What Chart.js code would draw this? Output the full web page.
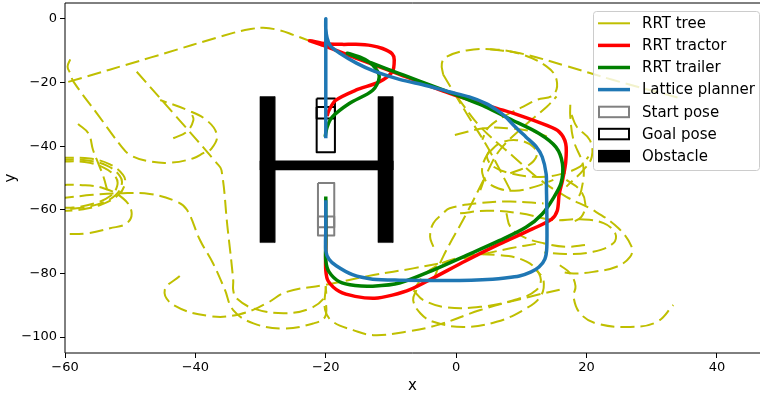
<!DOCTYPE html>
<html lang="en">
<head>
<meta charset="UTF-8">
<title>RRT vs lattice planner</title>
<script src="https://cdn.jsdelivr.net/npm/chart.js"></script>
<style>
  body { margin: 0; background: #fff; }
  #wrap { width: 760px; height: 394px; }
</style>
</head>
<body>
<div id="wrap"><canvas id="plannerChart"></canvas></div>
<script>
// axis ticks
const xTicks = [-60, -40, -20, 0, 20, 40];
const yTicks = [0, -20, -40, -60, -80, -100];

const legendLabels = ['RRT tree', 'RRT tractor', 'RRT trailer', 'Lattice planner', 'Start pose', 'Goal pose', 'Obstacle'];

// RRT tree edges (x, y)
const treeEdges = [
  [[-59.5,-19.8],[-46.8,-12.1],[-34.2,-4.4],[-31.5,-3.2],[-29.6,-2.8],[-27,-3.6],[-25,-5],[-22.1,-7.2]],
  [[-59.2,-12.7],[-59.6,-15],[-59.2,-17.1],[-58.7,-19.7],[-55,-30],[-51.3,-40.2],[-50,-42.8],[-47.5,-44.6],[-43.9,-45.2],[-40.3,-43.8],[-38.8,-42.2],[-37.5,-40.7],[-36.7,-36.5],[-38.3,-31.8],[-41.3,-28.6],[-45.4,-25.5]],
  [[-49,-16.6],[-42.8,-31],[-36.7,-45.4],[-36,-47.5],[-35.1,-65],[-34.2,-82.1],[-34.2,-85.2],[-33.7,-87.8],[-31.1,-91],[-26.5,-92.5],[-22.4,-91],[-20.1,-87.3],[-20,-84]],
  [[-60.8,-56.4],[-55.7,-55.3],[-51.6,-54.8],[-47,-55],[-42.9,-57.4],[-41.3,-60],[-39.3,-69.5],[-37.3,-76.8],[-35.5,-85],[-34.2,-91.5],[-31.1,-95.7],[-26.5,-97.3],[-21.9,-95.7],[-20.1,-93.6],[-20,-88]],
  [[-43.4,-37.5],[-41.3,-35.4],[-40.3,-31.8],[-40.6,-29.7]],
  [[-58,-33],[-56.4,-36],[-55.7,-41.2],[-54.9,-45.4],[-54.1,-49.6],[-53.4,-54.8]],
  [[-60.8,-43.6],[-56.2,-43.9],[-53.1,-45.7],[-51.1,-49],[-50.8,-51.7],[-51.8,-55.3],[-54.6,-58.5],[-58.2,-60.1],[-60.8,-60.3]],
  [[-60.8,-44.2],[-56.5,-44.5],[-53.5,-46.2],[-51.6,-49.3],[-51.3,-52],[-52.3,-55.5],[-55,-58.3],[-58.5,-59.6],[-60.8,-59.8]],
  [[-60.8,-44.8],[-57,-45],[-54,-46.8],[-52.2,-49.8],[-52,-52.5],[-53,-55.6],[-55.5,-58],[-58.8,-59.3],[-60.8,-59.3]],
  [[-60.8,-52.2],[-57.7,-52.2],[-54.1,-53.2],[-51.1,-56.4],[-49.8,-60.6],[-50.5,-64.2],[-53.1,-65.8],[-56.7,-67.4],[-60.8,-67.6]],
  [[-42.4,-80.8],[-44.7,-85.2],[-43.4,-89.9],[-37.8,-93.4],[-33.2,-92.8],[-29.1,-89.4],[-26,-85.8],[-20.1,-83.6],[-12.7,-80.5],[-6.6,-78.4],[0.6,-75.5],[8.3,-72.1],[12.8,-70.5]],
  [[-20,-84],[-20.1,-91.5],[-18.9,-95.2],[-15.8,-97.8],[-12.7,-99.4],[-7.6,-98.3],[-2.5,-96],[3.7,-91.5],[11.3,-87.3],[16.7,-84.7]],
  [[-2,-17.5],[-2.2,-14],[-1.5,-11.9],[1.6,-9.9],[5.2,-9.5],[9.8,-11],[13.9,-15],[15.4,-19.2],[14.9,-23.9],[12.3,-25.5],[10.3,-27.6],[7.7,-30.2],[5,-34],[4,-38]],
  [[5.2,-9.5],[9.8,-10.8],[16.9,-14.8],[24.1,-19.2],[34.3,-24.9]],
  [[-2,-17.5],[1.6,-29.7],[5,-41],[8.3,-53.8]],
  [[-0.2,-36.5],[4.2,-34.4],[8.3,-34.4],[11.8,-35.4],[14,-37]],
  [[5.2,-41.2],[4.7,-43.3],[5.7,-46.4],[8.3,-48.5],[11.8,-49.6],[15.4,-49.1],[19,-46.4],[20.3,-43.3]],
  [[4.9,-42.2],[6.7,-39.1],[9.3,-38.1],[11.8,-40.2],[12.3,-43.3],[10.8,-46.4],[8.3,-48.5]],
  [[3.7,-53.8],[4.7,-48.5],[6.7,-41.2],[10.3,-33.9],[13.9,-27.6],[15.4,-24.4]],
  [[17.7,-30.2],[18.5,-33.9],[20.5,-38.1],[20.8,-43.3],[19.5,-47.5],[16.9,-52.7]],
  [[17.5,-27],[17.5,-30.7],[18,-38.1],[19.5,-46.4],[19.2,-53.8],[18.5,-57]],
  [[0.1,-24.4],[3.7,-33.9],[8.8,-43.3],[12.9,-50.6],[16.9,-55.9],[21,-60.1],[24.9,-65.8],[26.9,-71.6],[26.7,-74.7],[24.6,-77.9],[21,-79.5],[18,-80],[15.9,-79.5]],
  [[0.6,-61.1],[4.7,-60.3],[9.8,-61.1],[14.9,-63.2],[19,-63],[22.6,-64.2],[24.4,-67.4],[24.1,-70.5],[21,-73.2],[16.9,-73.9],[13.5,-73.4]],
  [[15.9,-77.4],[17.5,-80],[18.3,-84],[18,-87.3],[19,-92.5],[21.5,-95.7],[26.7,-96.8],[30.8,-95.2],[33.3,-89.9]],
  [[-6.6,-85.2],[-4,-78.9],[1.1,-74.7],[6.2,-74.2],[10.8,-76.3],[12.9,-81],[12.3,-85.2],[8.8,-88.4],[3.7,-90.5],[-1.4,-90.7],[-5,-88.4],[-6.6,-85.2]],
  [[-6.1,-85.2],[-6.6,-88.4],[-5.5,-92.5],[-3.5,-95.2],[1.1,-96.8],[6.2,-95.2],[10.3,-91.5],[12.9,-87.3],[13.4,-82.1],[12.3,-78.9]],
  [[4.2,-50.6],[1.6,-61.1],[-2,-74.7],[-3.5,-82.1]],
  [[-3.5,-71.6],[-4,-68.5],[-3.5,-64.2],[-2,-61.1],[-1,-59.5],[3.1,-58],[8.3,-57.4],[13.4,-58]],
  [[7.7,-61.1],[8.3,-65.3],[10.3,-68.5],[13.4,-70.5],[16.9,-71.6],[20,-71]],
  [[5.2,-41.2],[4.2,-45],[4,-48.5],[4.6,-51],[6.5,-53.3],[9,-54],[12,-52.8],[14.9,-50.6]],
  [[16.9,-50.6],[19,-53.8],[19.8,-58],[19.2,-62.2],[17.5,-64.2]]
];

const tractorPath = [[-20,-62],[-20,-72],[-20,-79],[-19.6,-82.5],[-17.9,-85.7],[-15.5,-87.2],[-12.5,-87.8],[-9.8,-86.8],[-7,-85],[-3.6,-81.5],[1.5,-76],[6.6,-70.8],[11.7,-66],[14.6,-63],[15.5,-60.3],[15.8,-55],[16.3,-50.8],[16.8,-45],[16.8,-39.2],[15.8,-35.5],[13.8,-33.4],[9.7,-30.3],[5.6,-27.7],[-1.1,-23.3],[-8.7,-17.4],[-12.5,-14.5],[-15.4,-12.3],[-18,-10.2],[-20.2,-8.5],[-22.5,-6.8],[-20,-7.8],[-17.5,-8],[-15.4,-8],[-13,-8.4],[-11.3,-9.3],[-9.8,-11],[-9.5,-12.9],[-9.8,-16.6],[-11.8,-19.8],[-15.4,-22.4],[-18.5,-25.6],[-19.5,-28.7],[-19.8,-30.5]];

const trailerPath = [[-20,-55.8],[-20,-70],[-20,-76],[-19.5,-79.5],[-17.9,-82.6],[-15.5,-83.8],[-12.8,-84],[-8.7,-83],[-3.6,-79],[1.5,-74.4],[6.6,-69.7],[10.7,-65.5],[13.2,-61.3],[15,-56],[16.1,-51.5],[16.3,-45.5],[15.3,-40.3],[12.7,-36],[8.1,-31.3],[4.6,-27.7],[-1.1,-23],[-8.7,-17.2],[-13,-13.8],[-16.7,-10.8],[-14.5,-12.2],[-12.8,-14.5],[-11.8,-18.2],[-12.8,-22.4],[-16.4,-26.6],[-19,-30.8],[-19.8,-34],[-20.1,-37.1]];

const latticePath = [[-20,-57],[-20,-66],[-20,-72.9],[-19.5,-75.5],[-18.4,-77.6],[-15.9,-80.4],[-12.8,-81.8],[-8.7,-82.1],[0.5,-82.2],[4,-82],[7.5,-81.4],[9.7,-80.8],[11.5,-79.5],[12.7,-78],[13.6,-75.5],[13.9,-71.8],[13.9,-60],[13.85,-53.9],[13.8,-48.7],[13.2,-43.4],[12.2,-40],[10.7,-37.1],[9,-33.8],[7.6,-30.8],[6.2,-28.6],[4.6,-26.6],[2,-24.5],[-1.1,-22.9],[-4.5,-21],[-8.7,-19],[-12.5,-16.5],[-15.3,-13.9],[-17.9,-10.7],[-19.3,-8.5],[-19.8,-6],[-20,-3],[-20,0],[-20,-10],[-20,-37.5]];

// poses: tractor and trailer outlines
const startTractor = [[-21.2,-62.1],[-18.7,-62.1],[-18.7,-68.1],[-21.2,-68.1],[-21.2,-62.1]];
const startTrailer = [[-21.2,-51.6],[-18.7,-51.6],[-18.7,-65.5],[-21.2,-65.5],[-21.2,-51.6]];
const goalTractor = [[-21.4,-25],[-18.6,-25],[-18.6,-31.3],[-21.4,-31.3],[-21.4,-25]];
const goalTrailer = [[-21.4,-27.7],[-18.6,-27.7],[-18.6,-41.9],[-21.4,-41.9],[-21.4,-27.7]];

// H-shaped obstacle
const obstacleLeft = [[-30.1,-24.4],[-27.8,-24.4],[-27.8,-70.3],[-30.1,-70.3],[-30.1,-24.4]];
const obstacleRight = [[-12,-24.4],[-9.7,-24.4],[-9.7,-70.3],[-12,-70.3],[-12,-24.4]];
const obstacleBar = [[-30.1,-44.6],[-9.7,-44.6],[-9.7,-47.5],[-30.1,-47.5],[-30.1,-44.6]];

const treeColor = '#bfbf00';
const tractorColor = '#ff0000';
const trailerColor = '#008000';
const latticeColor = '#1f77b4';
const startColor = '#808080';
const goalColor = '#000000';

const toPts = arr => arr.map(p => ({ x: p[0], y: p[1] }));
const minus = v => (v < 0 ? '\u2212' + Math.abs(v) : String(v));

let datasets = [];
treeEdges.forEach(edge => {
  datasets.push({
    data: toPts(edge), borderColor: treeColor, borderWidth: 2,
    borderDash: [14, 6], tension: 0.4, order: 10
  });
});
[obstacleLeft, obstacleRight, obstacleBar].forEach(r => {
  datasets.push({
    data: toPts(r), borderColor: '#000', backgroundColor: '#000',
    borderWidth: 0.5, fill: 'shape', tension: 0, order: 5
  });
});
[[startTrailer, startColor], [startTractor, startColor], [goalTrailer, goalColor], [goalTractor, goalColor]].forEach(([r, c]) => {
  datasets.push({ data: toPts(r), borderColor: c, borderWidth: 2, tension: 0, order: 4 });
});
datasets.push({ data: toPts(tractorPath), borderColor: tractorColor, borderWidth: 3.5, tension: 0.3, order: 3 });
datasets.push({ data: toPts(trailerPath), borderColor: trailerColor, borderWidth: 3.5, tension: 0.3, order: 2 });
datasets.push({ data: toPts(latticePath), borderColor: latticeColor, borderWidth: 3.5, tension: 0.3, order: 1 });

datasets.forEach(d => {
  d.showLine = true;
  d.pointRadius = 0;
  d.borderJoinStyle = 'round';
  if (d.fill === undefined) d.fill = false;
});

const legendStyles = [
  { type: 'line', color: treeColor, width: 2 },
  { type: 'line', color: tractorColor, width: 3.5 },
  { type: 'line', color: trailerColor, width: 3.5 },
  { type: 'line', color: latticeColor, width: 3.5 },
  { type: 'box', color: startColor },
  { type: 'box', color: goalColor },
  { type: 'fill', color: '#000' }
];

// matplotlib-like frame (left, top, bottom spines)
const framePlugin = {
  id: 'frame',
  afterDatasetsDraw(chart) {
    const { ctx, chartArea: a } = chart;
    ctx.save();
    ctx.strokeStyle = '#000';
    ctx.lineWidth = 1;
    ctx.beginPath();
    ctx.moveTo(a.right, a.top);
    ctx.lineTo(a.left, a.top);
    ctx.lineTo(a.left, a.bottom);
    ctx.lineTo(a.right, a.bottom);
    ctx.stroke();
    ctx.restore();
  }
};

const legendPlugin = {
  id: 'mplLegend',
  afterDraw(chart) {
    const { ctx, chartArea: a } = chart;
    const w = 166, h = 159;
    const x0 = a.right - w - 1, y0 = a.top + 8;
    ctx.save();
    ctx.beginPath();
    ctx.roundRect(x0 + 0.5, y0 + 0.5, w, h, 3);
    ctx.fillStyle = 'rgba(255,255,255,0.8)';
    ctx.fill();
    ctx.strokeStyle = '#cccccc';
    ctx.lineWidth = 1;
    ctx.stroke();
    ctx.font = '15px "DejaVu Sans"';
    ctx.textBaseline = 'middle';
    legendLabels.forEach((lab, i) => {
      const cy = y0 + 12.3 + i * 22.1;
      const st = legendStyles[i];
      if (st.type === 'line') {
        ctx.beginPath();
        ctx.moveTo(x0 + 5, cy);
        ctx.lineTo(x0 + 37, cy);
        ctx.strokeStyle = st.color;
        ctx.lineWidth = st.width;
        ctx.stroke();
      } else if (st.type === 'box') {
        ctx.strokeStyle = st.color;
        ctx.lineWidth = 2;
        ctx.strokeRect(x0 + 6, cy - 5, 30, 10.5);
      } else {
        ctx.fillStyle = st.color;
        ctx.fillRect(x0 + 5, cy - 6, 32, 12.5);
      }
      ctx.fillStyle = '#000';
      ctx.fillText(lab, x0 + 49, cy + 1);
    });
    ctx.restore();
  }
};

const tickFont = { family: 'DejaVu Sans', size: 13 };
const titleFont = { family: 'DejaVu Sans', size: 15 };

new Chart(document.getElementById('plannerChart'), {
  type: 'scatter',
  data: { datasets },
  options: {
    responsive: true,
    maintainAspectRatio: false,
    animation: false,
    layout: { padding: { top: 3, right: 0, left: 0, bottom: 0 } },
    plugins: { legend: { display: false }, tooltip: { enabled: false } },
    scales: {
      x: {
        type: 'linear', min: -60, max: 46.6,
        afterBuildTicks: s => { s.ticks = xTicks.map(v => ({ value: v })); },
        afterFit: s => { s.height = 41; s.paddingLeft = 0; s.paddingRight = 0; },
        ticks: { font: tickFont, color: '#000', padding: 2, maxRotation: 0, autoSkip: false, callback: v => minus(v) },
        grid: { drawOnChartArea: false, tickLength: 5, color: '#000' },
        border: { display: false },
        title: { display: true, text: 'x', font: titleFont, color: '#000', padding: { top: 0, bottom: -1 } }
      },
      y: {
        type: 'linear', min: -105, max: 5,
        afterBuildTicks: s => { s.ticks = yTicks.map(v => ({ value: v })); },
        afterFit: s => { s.width = 65; s.paddingTop = 0; s.paddingBottom = 0; },
        ticks: { font: tickFont, color: '#000', padding: 3, autoSkip: false, callback: v => minus(v) },
        grid: { drawOnChartArea: false, tickLength: 5, color: '#000' },
        border: { display: false },
        title: { display: true, text: 'y', font: titleFont, color: '#000', padding: { top: 2, bottom: 0 } }
      }
    }
  },
  plugins: [framePlugin, legendPlugin]
});
</script>
</body>
</html>
